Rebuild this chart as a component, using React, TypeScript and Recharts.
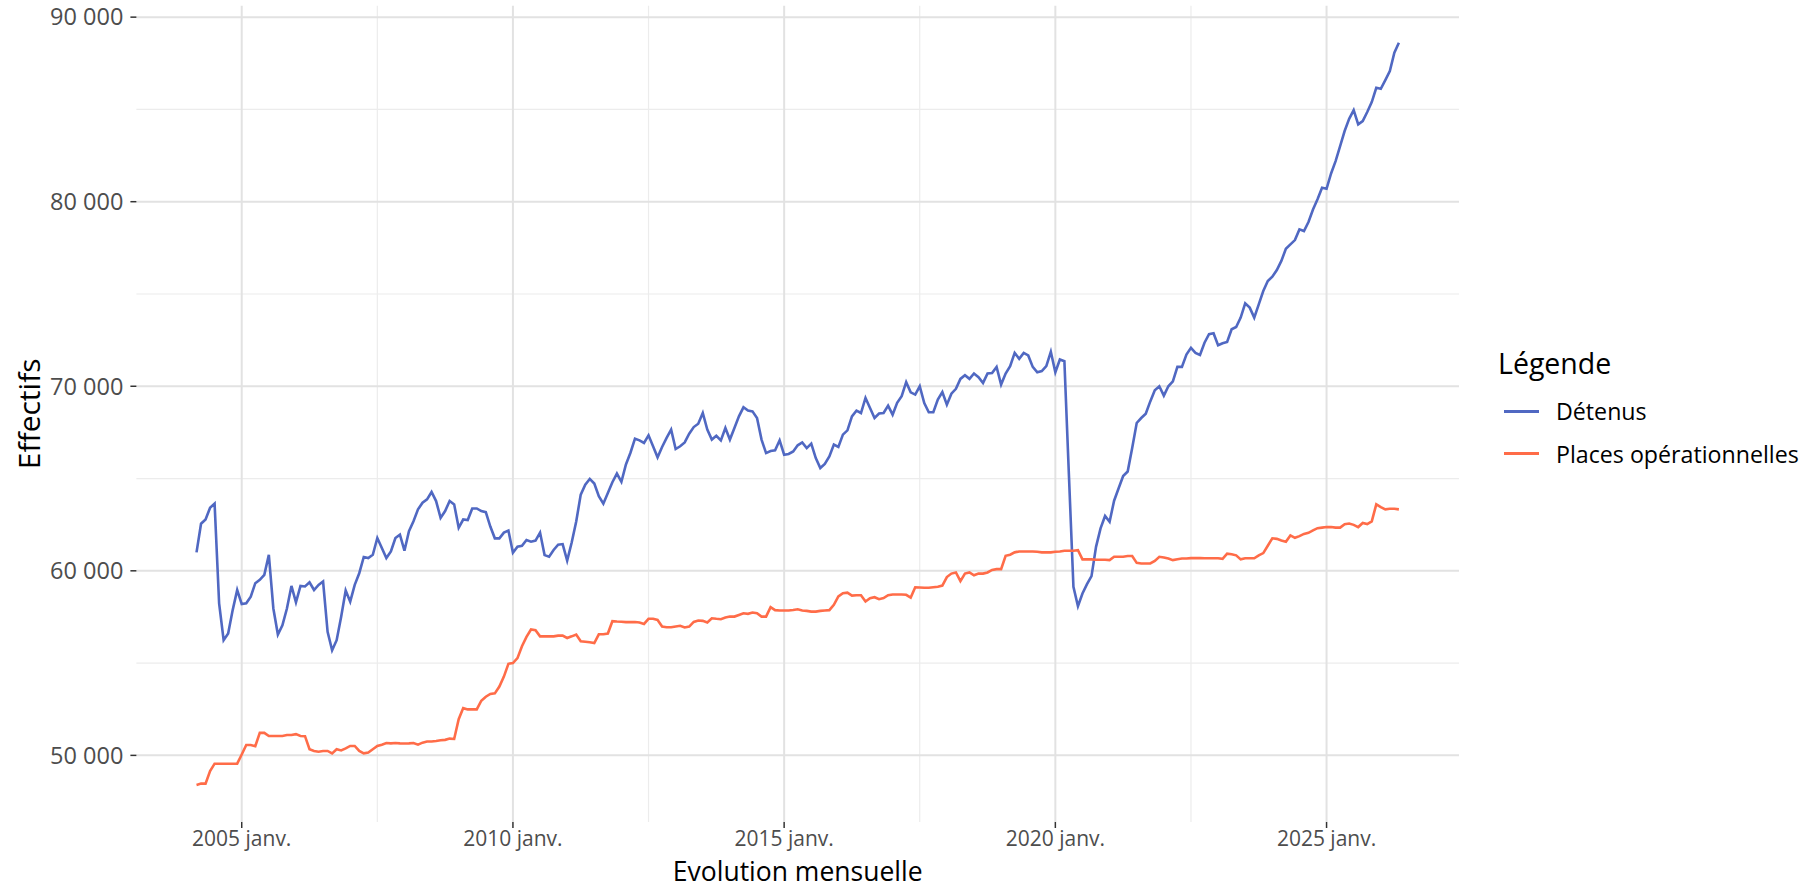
import { LineChart, Line, XAxis, YAxis, ReferenceLine, Legend } from "recharts";

// Monthly series, from 2004 March (index 0) to 2026 May (index 266)
const detenus = [
  61000, 62550, 62780, 63420, 63640, 58240, 56240, 56600, 57870, 58960,
  58200, 58240, 58600, 59330, 59510, 59780, 60870, 57960, 56550, 57050,
  57960, 59180, 58290, 59180, 59150, 59380, 58960, 59240, 59420, 56690,
  55690, 56240, 57510, 58930, 58330, 59240, 59870, 60750, 60690, 60870,
  61780, 61240, 60690, 61050, 61780, 61960, 61090, 62150, 62690, 63330,
  63690, 63870, 64270, 63780, 62870, 63240, 63780, 63600, 62330, 62780,
  62750, 63380, 63380, 63240, 63180, 62400, 61760, 61760, 62070, 62180,
  60980, 61310, 61350, 61670, 61580, 61640, 62070, 60850, 60760, 61130,
  61420, 61450, 60550, 61530, 62670, 64130, 64670, 64980, 64730, 64040,
  63640, 64220, 64800, 65270, 64820, 65760, 66400, 67160, 67070, 66930,
  67340, 66750, 66150, 66710, 67200, 67650, 66600, 66750, 66960, 67430,
  67790, 67970, 68550, 67650, 67110, 67320, 67070, 67740, 67110, 67740,
  68370, 68860, 68680, 68640, 68280, 67110, 66380, 66490, 66530, 67070,
  66290, 66330, 66470, 66800, 66960, 66650, 66890, 66110, 65570, 65790,
  66200, 66840, 66710, 67380, 67610, 68370, 68680, 68550, 69370, 68820,
  68280, 68520, 68550, 68950, 68460, 69100, 69460, 70220, 69670, 69550,
  70000, 69090, 68590, 68590, 69280, 69690, 69000, 69600, 69860, 70400,
  70600, 70400, 70690, 70490, 70180, 70690, 70720, 71050, 70090, 70690,
  71090, 71810, 71490, 71810, 71670, 71050, 70760, 70820, 71090, 71870,
  70760, 71450, 71360, 65200, 59130, 58080, 58770, 59280, 59710, 61300,
  62300, 62970, 62660, 63800, 64470, 65140, 65380, 66650, 68010, 68280,
  68510, 69180, 69780, 70000, 69490, 70000, 70270, 71050, 71050, 71720,
  72080, 71810, 71700, 72360, 72820, 72870, 72220, 72330, 72400, 73090,
  73210, 73720, 74490, 74260, 73720, 74440, 75160, 75700, 75940, 76300,
  76790, 77450, 77690, 77920, 78500, 78410, 78900, 79580, 80130, 80760,
  80700, 81530, 82200, 83010, 83830, 84490, 84960, 84190, 84370, 84860,
  85400, 86170, 86120, 86590, 87080, 88070, 88610,
];

const places = [
  48400, 48470, 48470, 49150, 49550, 49550, 49550, 49550, 49550, 49550,
  50050, 50560, 50560, 50500, 51220, 51220, 51050, 51050, 51050, 51050,
  51100, 51100, 51150, 51050, 51040, 50330, 50240, 50200, 50240, 50240,
  50110, 50330, 50270, 50380, 50510, 50510, 50240, 50110, 50150, 50330,
  50510, 50580, 50670, 50650, 50670, 50650, 50640, 50650, 50670, 50580,
  50690, 50750, 50750, 50780, 50820, 50840, 50910, 50890, 51960, 52560,
  52490, 52490, 52490, 52960, 53180, 53330, 53360, 53730, 54270, 54960,
  55000, 55270, 55910, 56420, 56820, 56780, 56450, 56450, 56450, 56450,
  56490, 56490, 56360, 56450, 56550, 56180, 56160, 56130, 56090, 56560,
  56560, 56600, 57270, 57250, 57240, 57220, 57220, 57230, 57200, 57120,
  57400, 57400, 57340, 56980, 56940, 56940, 56980, 57020, 56930, 56980,
  57230, 57310, 57290, 57200, 57430, 57400, 57380, 57470, 57520, 57520,
  57610, 57700, 57670, 57740, 57700, 57520, 57520, 58030, 57870, 57850,
  57850, 57850, 57880, 57920, 57850, 57830, 57790, 57790, 57830, 57850,
  57870, 58160, 58610, 58790, 58820, 58660, 58680, 58680, 58340, 58520,
  58570, 58460, 58520, 58680, 58720, 58720, 58720, 58700, 58550, 59110,
  59100, 59080, 59080, 59110, 59140, 59200, 59660, 59850, 59910, 59440,
  59850, 59910, 59760, 59850, 59850, 59910, 60050, 60090, 60090, 60815,
  60870, 61000, 61050, 61050, 61050, 61050, 61030, 61000, 61000, 61000,
  61030, 61050, 61090, 61090, 61090, 61120, 60620, 60620, 60620, 60600,
  60600, 60600, 60580, 60760, 60760, 60760, 60800, 60800, 60430, 60400,
  60400, 60400, 60540, 60760, 60720, 60670, 60580, 60630, 60670, 60670,
  60690, 60690, 60690, 60680, 60680, 60680, 60680, 60650, 60930, 60900,
  60840, 60620, 60680, 60680, 60680, 60840, 60960, 61360, 61760, 61730,
  61640, 61580, 61920, 61790, 61880, 62000, 62060, 62190, 62310, 62340,
  62370, 62370, 62340, 62340, 62530, 62560, 62490, 62370, 62590, 62530,
  62680, 63600, 63450, 63330, 63360, 63360, 63330,
];

const xTicks = [10, 70, 130, 190, 250];
const xTickLabels = ["2005 janv.", "2010 janv.", "2015 janv.", "2020 janv.", "2025 janv."];
const xMinor = [40, 100, 160, 220];
const yTicks = [50000, 60000, 70000, 80000, 90000];
const yMinor = [55000, 65000, 75000, 85000];

const BLUE = "#5068c2";
const ORANGE = "#ff6c48";
const FONT = "'Open Sans', sans-serif";

const data = detenus.map((v, i) => ({ t: i, detenus: v, places: places[i] }));

const fmt = (v: number) => String(v).replace(/\B(?=(\d{3})+(?!\d))/g, " ");

function LegendBox({ payload }: any) {
  return (
    <div style={{ fontFamily: FONT, color: "#000" }}>
      <div style={{ fontSize: 28.5, height: 46, lineHeight: "46px" }}>Légende</div>
      <div style={{ height: 4 }} />
      {(payload || []).map((p: any) => (
        <div key={p.value} style={{ display: "flex", alignItems: "center", height: 42.5 }}>
          <div style={{ marginLeft: 5.5, width: 35.5, height: 2.6, background: p.color }} />
          <span style={{ marginLeft: 17, fontSize: 23.2, lineHeight: "42.5px" }}>{p.value}</span>
        </div>
      ))}
    </div>
  );
}

export default function App() {
  return (
    <div style={{ position: "absolute", left: 0, top: 0, width: 1818, height: 889, background: "#fff" }}>
      <LineChart width={1818} height={889} data={data} margin={{ top: 5.7, right: 359, bottom: 0, left: 0 }}>
        {yMinor.map((y) => (
          <ReferenceLine key={"ym" + y} y={y} stroke="#ececec" strokeWidth={1.2} />
        ))}
        {xMinor.map((x) => (
          <ReferenceLine key={"xm" + x} x={x} stroke="#ececec" strokeWidth={1.2} />
        ))}
        {yTicks.map((y) => (
          <ReferenceLine key={"y" + y} y={y} stroke="#e2e2e2" strokeWidth={2} />
        ))}
        {xTicks.map((x) => (
          <ReferenceLine key={"x" + x} x={x} stroke="#e2e2e2" strokeWidth={2} />
        ))}
        <XAxis
          type="number"
          dataKey="t"
          domain={[-13.3, 279.3]}
          allowDataOverflow
          ticks={xTicks}
          interval={0}
          tickFormatter={(v) => xTickLabels[xTicks.indexOf(v)] ?? ""}
          axisLine={false}
          tickLine={{ stroke: "#333", strokeWidth: 1.5 }}
          tickSize={6}
          tickMargin={3.5}
          height={67}
          tick={{ fill: "#4d4d4d", fontSize: 21, fontFamily: FONT }}
          label={{
            content: ({ viewBox }: any) => (
              <text
                x={viewBox.x + viewBox.width / 2}
                y={881}
                textAnchor="middle"
                fontSize={26.5}
                fontFamily={FONT}
                fill="#000"
              >
                Evolution mensuelle
              </text>
            ),
          }}
        />
        <YAxis
          type="number"
          domain={[46390, 90620]}
          allowDataOverflow
          ticks={yTicks}
          interval={0}
          tickFormatter={fmt}
          axisLine={false}
          tickLine={{ stroke: "#333", strokeWidth: 1.5 }}
          tickSize={6}
          tickMargin={7}
          width={136.4}
          tick={{ fill: "#4d4d4d", fontSize: 23.5, fontFamily: FONT }}
          label={{
            content: ({ viewBox }: any) => {
              const cx = viewBox.x + 29;
              const cy = viewBox.y + viewBox.height / 2;
              return (
                <text
                  x={cx}
                  y={cy}
                  transform={`rotate(-90 ${cx} ${cy})`}
                  textAnchor="middle"
                  dominantBaseline="central"
                  fontSize={30}
                  fontFamily={FONT}
                  fill="#000"
                >
                  Effectifs
                </text>
              );
            },
          }}
        />
        <Legend
          layout="vertical"
          align="center"
          verticalAlign="middle"
          wrapperStyle={{ left: 1498, top: 340, width: 320 }}
          content={(props: any) => <LegendBox payload={props.payload} />}
        />
        <Line
          type="linear"
          dataKey="detenus"
          name="Détenus"
          stroke={BLUE}
          strokeWidth={2.6}
          dot={false}
          isAnimationActive={false}
        />
        <Line
          type="linear"
          dataKey="places"
          name="Places opérationnelles"
          stroke={ORANGE}
          strokeWidth={2.6}
          dot={false}
          isAnimationActive={false}
        />
      </LineChart>
    </div>
  );
}
